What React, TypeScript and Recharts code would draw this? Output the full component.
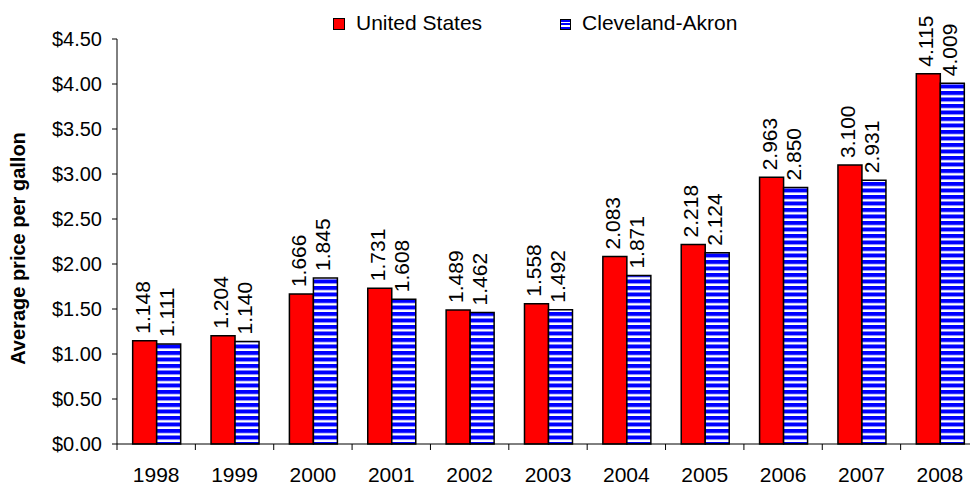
import React from "react";
import { BarChart, Bar, XAxis, YAxis, Legend, LabelList, Label } from "recharts";

const years = ["1998", "1999", "2000", "2001", "2002", "2003", "2004", "2005", "2006", "2007", "2008"];
const unitedStates = [1.148, 1.204, 1.666, 1.731, 1.489, 1.558, 2.083, 2.218, 2.963, 3.1, 4.115];
const clevelandAkron = [1.111, 1.14, 1.845, 1.608, 1.462, 1.492, 1.871, 2.124, 2.85, 2.931, 4.009];
const yTicks = [0, 0.5, 1, 1.5, 2, 2.5, 3, 3.5, 4, 4.5];
const seriesNames = ["United States", "Cleveland-Akron"];

const data = years.map((y, i) => ({ year: y, us: unitedStates[i], ca: clevelandAkron[i] }));

const FONT = "'Liberation Sans', Arial, sans-serif";
const CHART_W = 990;
const CHART_H = 485;
const MARGIN = { top: 39, right: 11, bottom: 0, left: 0 };
const Y_W = 117;
const X_H = 41;
const BAND = (CHART_W - MARGIN.left - MARGIN.right - Y_W) / years.length;

const BarValueLabel = (props: any) => {
  const { x, y, width, value } = props;
  const bx = Number(x) + Number(width) / 2 + 5;
  const by = Number(y) - 7;
  return (
    <text
      x={bx}
      y={by}
      transform={`rotate(-90 ${bx} ${by})`}
      textAnchor="start"
      fontSize={21}
      fontFamily={FONT}
      fill="#000"
    >
      {Number(value).toFixed(3)}
    </text>
  );
};

const XTick = (props: any) => {
  const { x, y, payload } = props;
  const lx = Number(x) - BAND / 2;
  return (
    <g>
      <line x1={lx} x2={lx} y1={y - 6} y2={y} stroke="#000" strokeWidth={1} />
      <text x={x} y={y} dy={32} textAnchor="middle" fontSize={21} fontFamily={FONT} fill="#000">
        {payload.value}
      </text>
    </g>
  );
};

const LegendContent = () => (
  <div style={{ display: "flex", alignItems: "center", fontFamily: FONT, fontSize: 21, lineHeight: "24px", color: "#000" }}>
    <span
      style={{
        display: "inline-block",
        width: 10,
        height: 10,
        background: "#ff0000",
        border: "1px solid #000",
        marginRight: 11,
        marginTop: 2,
      }}
    />
    <span style={{ marginRight: 78 }}>{seriesNames[0]}</span>
    <span
      style={{
        display: "inline-block",
        width: 9,
        height: 9,
        background: "repeating-linear-gradient(to bottom, #0000ff 0px, #0000ff 2px, #ffffff 2px, #ffffff 3.5px)",
        border: "1px solid #000",
        marginRight: 11,
        marginTop: 3,
      }}
    />
    <span>{seriesNames[1]}</span>
  </div>
);

export default function App() {
  return (
    <div style={{ position: "absolute", left: 0, top: 0, width: 970, height: 485, overflow: "hidden", background: "#fff" }}>
      <svg width={0} height={0} style={{ position: "absolute" }}>
        <defs>
          <pattern id="blueStripes" width={8} height={6.5} patternUnits="userSpaceOnUse">
            <rect x={0} y={0} width={8} height={6.5} fill="#ffffff" />
            <rect x={0} y={0} width={8} height={4} fill="#0000ff" />
          </pattern>
        </defs>
      </svg>
      <BarChart
        width={CHART_W}
        height={CHART_H}
        data={data}
        margin={MARGIN}
        barCategoryGap="20%"
        barGap={0}
        style={{ fontFamily: FONT }}
      >
        <XAxis
          dataKey="year"
          height={X_H}
          tickLine={false}
          tickSize={6}
          tickMargin={0}
          axisLine={{ stroke: "#000", strokeWidth: 1 }}
          tick={<XTick />}
          interval={0}
        />
        <YAxis
          width={Y_W}
          domain={[0, 4.5]}
          ticks={yTicks}
          interval={0}
          tickSize={5}
          tickMargin={10}
          tickLine={{ stroke: "#000" }}
          axisLine={{ stroke: "#000", strokeWidth: 1 }}
          tick={{ fontSize: 20, fill: "#000", fontFamily: FONT }}
          tickFormatter={(v: number) => `$${v.toFixed(2)}`}
        >
          <Label
            content={(p: any) => {
              const vb = p.viewBox || {};
              const cx = 25;
              const cy = (vb.y ?? 39) + (vb.height ?? 405) / 2 + 7;
              return (
                <text
                  x={cx}
                  y={cy}
                  transform={`rotate(-90 ${cx} ${cy})`}
                  textAnchor="middle"
                  fontSize={20}
                  fontWeight="bold"
                  fontFamily={FONT}
                  fill="#000"
                >
                  Average price per gallon
                </text>
              );
            }}
          />
        </YAxis>
        <Legend
          layout="horizontal"
          verticalAlign="middle"
          align="center"
          content={<LegendContent />}
          wrapperStyle={{ top: 11, left: 333, width: "auto", height: "auto" }}
        />
        <Bar dataKey="us" name={seriesNames[0]} fill="#ff0000" stroke="#000" strokeWidth={1.5} isAnimationActive={false}>
          <LabelList dataKey="us" content={<BarValueLabel />} />
        </Bar>
        <Bar dataKey="ca" name={seriesNames[1]} fill="url(#blueStripes)" stroke="#000" strokeWidth={1.5} isAnimationActive={false}>
          <LabelList dataKey="ca" content={<BarValueLabel />} />
        </Bar>
      </BarChart>
    </div>
  );
}
